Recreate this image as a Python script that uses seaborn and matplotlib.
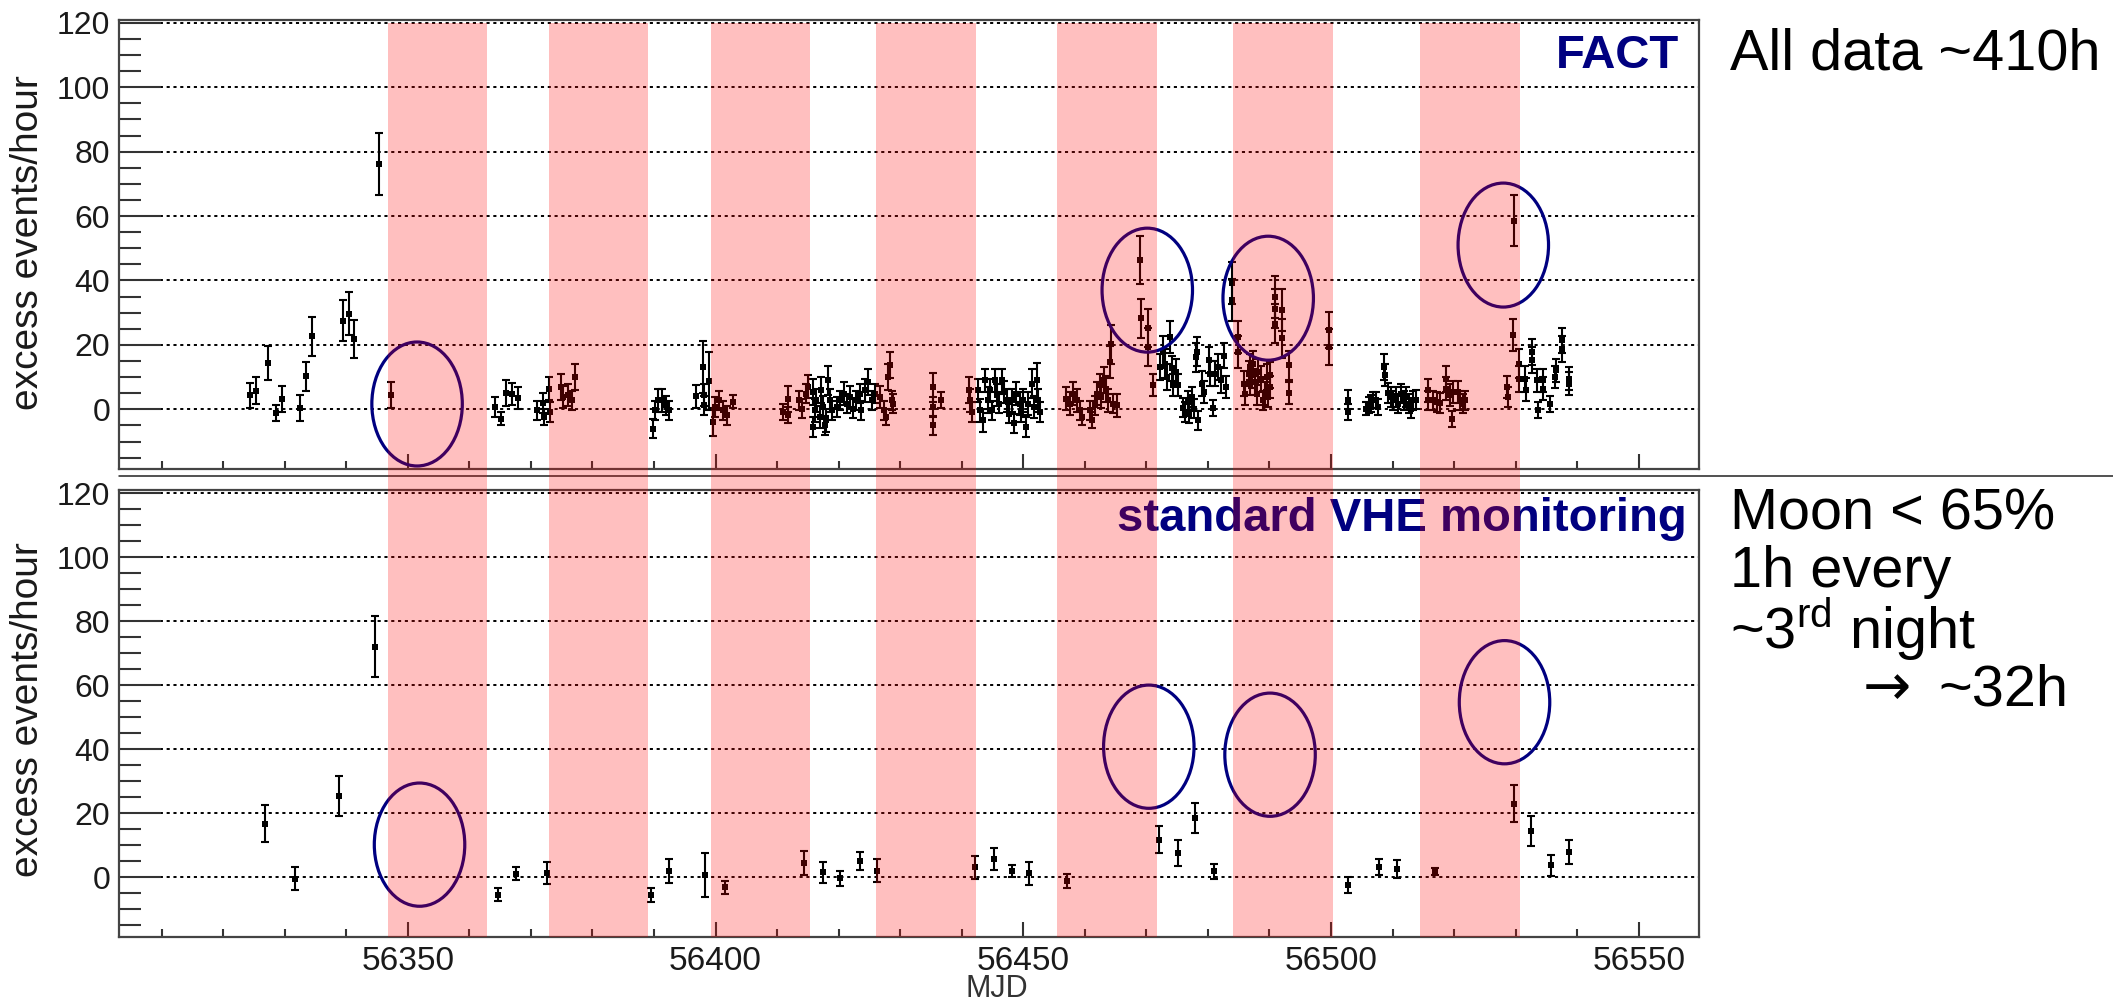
import matplotlib
matplotlib.use("Agg")
import matplotlib.pyplot as plt
import matplotlib.transforms as mtransforms
from matplotlib.patches import Ellipse, Rectangle
from matplotlib.lines import Line2D
from matplotlib.ticker import MultipleLocator
import seaborn as sns
import pandas as pd

# ---------------- data ----------------
# All FACT nights: MJD, excess rate (events/hour), 1-sigma error
all_mjd = [
    56324.4, 56325.4, 56327.3, 56328.6, 56329.5, 56332.4, 56333.4, 56334.4, 56339.4, 56340.4,
    56341.3, 56345.3, 56347.3, 56364.1, 56365.1, 56366.0, 56367.0, 56367.9, 56371.0, 56372.0,
    56372.1, 56373.0, 56373.1, 56374.9, 56375.2, 56376.1, 56376.7, 56377.2, 56389.9, 56390.1,
    56390.6, 56391.3, 56391.9, 56392.4, 56396.8, 56397.9, 56398.2, 56398.1, 56399.0, 56399.6,
    56399.9, 56400.6, 56401.2, 56401.8, 56402.8, 56410.9, 56411.7, 56411.8, 56413.5, 56414.0,
    56414.7, 56415.1, 56415.9, 56415.8, 56416.2, 56416.4, 56416.9, 56417.2, 56417.5, 56417.8,
    56418.0, 56418.3, 56418.6, 56418.9, 56419.7, 56420.2, 56420.8, 56421.3, 56421.8, 56422.4,
    56422.9, 56423.5, 56423.7, 56424.3, 56424.8, 56425.4, 56425.9, 56426.7, 56427.3, 56427.7,
    56428.1, 56428.3, 56428.6, 56428.9, 56435.4, 56435.4, 56435.4, 56436.7, 56441.2, 56441.3,
    56441.6, 56442.7, 56443.0, 56443.4, 56443.8, 56444.2, 56444.6, 56445.0, 56445.4, 56445.7,
    56446.1, 56446.5, 56446.9, 56447.3, 56447.7, 56448.1, 56448.5, 56448.9, 56449.4, 56449.6,
    56450.0, 56450.4, 56450.8, 56451.4, 56451.7, 56452.2, 56452.4, 56452.7, 56457.0, 56457.6,
    56458.1, 56458.7, 56459.2, 56459.5, 56460.8, 56461.1, 56461.6, 56461.9, 56462.4, 56462.7,
    56463.1, 56463.5, 56463.8, 56464.1, 56464.2, 56464.6, 56465.2, 56469.0, 56469.1, 56470.2,
    56470.2, 56471.1, 56472.2, 56472.65, 56473.0, 56473.4, 56473.8, 56474.1, 56474.4, 56474.8,
    56475.2, 56476.0, 56476.3, 56476.7, 56477.0, 56477.4, 56477.7, 56478.1, 56478.2, 56478.4,
    56479.0, 56479.4, 56480.1, 56480.4, 56480.9, 56481.2, 56481.7, 56482.1, 56482.6, 56483.0,
    56483.9, 56483.9, 56484.95, 56484.95, 56485.8, 56486.0, 56486.6, 56486.8, 56487.4, 56486.8,
    56487.1, 56487.7, 56487.9, 56488.2, 56488.6, 56488.9, 56489.3, 56489.6, 56489.8, 56490.1,
    56490.1, 56490.9, 56490.9, 56490.9, 56492.0, 56492.0, 56493.1, 56493.1, 56499.7, 56499.7,
    56502.7, 56502.7, 56505.7, 56506.1, 56506.5, 56506.9, 56507.3, 56507.7, 56508.6, 56508.8,
    56509.3, 56509.7, 56510.1, 56510.6, 56510.9, 56511.3, 56511.8, 56512.2, 56512.6, 56513.0,
    56513.4, 56513.8, 56515.8, 56515.8, 56516.6, 56517.2, 56517.7, 56518.7, 56518.7, 56519.3,
    56519.6, 56519.9, 56520.7, 56521.0, 56521.5, 56521.8, 56528.6, 56528.7, 56529.75, 56529.5,
    56530.5, 56530.5, 56531.5, 56531.7, 56532.6, 56532.6, 56533.4, 56533.7, 56534.4, 56534.5,
    56535.6, 56536.4, 56536.6, 56537.5, 56537.5, 56538.6, 56538.6,
]
all_rate = [
    4.4, 5.7, 14.4, -1.1, 3.1, 0.5, 10.3, 22.7, 27.5, 29.7,
    21.8, 76.1, 4.4, 0.7, -2.9, 5.1, 4.7, 3.5, -0.3, 2.0,
    -2.4, 6.4, -0.8, 6.9, 3.8, 4.4, 2.8, 10.0, -6.0, -0.3,
    2.8, 2.8, 1.2, -0.3, 4.0, 13.2, 4.5, 1.2, 8.8, -4.0,
    0.7, 2.8, -0.3, -1.9, 2.3, -0.8, 3.3, -1.9, 2.8, 0.2,
    4.9, 7.0, 5.4, -5.5, -0.3, 2.8, -2.4, 5.9, 0.7, -5.0,
    -3.4, 9.0, 2.8, -0.3, 0.7, 2.8, 4.9, 1.8, 3.8, 0.2,
    2.8, 4.9, -0.3, 5.9, 8.5, 2.8, 4.9, 3.8, -0.3, -2.4,
    10.0, 13.7, 2.8, 1.8, 6.8, 0.7, -5.0, 2.8, 5.9, 2.8,
    -0.8, 5.9, -0.3, -3.4, 9.0, 2.8, 5.9, -0.3, 9.0, 4.4,
    1.8, 9.0, 5.4, 2.8, -1.4, 2.8, -4.4, 4.9, 1.8, -0.8,
    2.8, -5.5, 1.8, 7.9, 0.7, 9.0, 2.8, -0.8, 3.3, 1.8,
    4.9, 2.8, -0.3, -2.4, -0.3, -3.4, 1.2, 4.9, 7.5, 3.8,
    9.0, 6.4, 2.8, 14.7, 20.2, 1.8, 1.2, 46.3, 28.2, 25.3,
    19.3, 7.5, 13.2, 17.8, 14.2, 10.0, 22.5, 12.7, 7.5, 11.6,
    7.5, 0.5, -0.8, 2.8, -1.4, 3.8, 0.2, 16.2, 17.8, -3.4,
    8.0, 5.4, 15.4, 11.1, 0.5, 11.1, 13.2, 9.0, 16.7, 6.9,
    39.1, 33.9, 22.5, 17.8, 8.0, 4.9, 11.1, 8.0, 14.2, 13.2,
    10.6, 8.5, 4.9, 11.6, 9.5, 2.8, 4.9, 10.0, 3.8, 6.9,
    10.6, 34.9, 31.3, 26.6, 30.8, 22.0, 13.7, 5.1, 24.6, 19.3,
    3.0, -0.8, 0.2, 1.2, 1.8, 2.8, 2.8, 0.7, 13.2, 10.6,
    5.1, 3.8, 2.8, 3.8, 1.8, 4.9, 2.8, 3.8, 1.8, 0.2,
    2.8, 3.0, 5.9, 2.8, 2.8, 2.3, 2.0, 9.5, 6.4, 4.4,
    -2.9, 5.4, 5.4, 2.8, 1.8, 2.8, 6.9, 3.8, 58.6, 23.0,
    14.2, 9.5, 9.3, 6.1, 17.8, 15.2, 9.0, -0.1, 9.0, 6.4,
    1.6, 10.0, 12.1, 21.4, 18.8, 9.5, 8.0,
]
all_err = [
    3.9, 4.2, 5.4, 2.5, 4.0, 4.0, 4.5, 6.0, 6.3, 6.6,
    5.9, 9.7, 4.0, 3.0, 2.0, 4.0, 3.5, 3.5, 3.0, 3.0,
    2.5, 3.5, 3.0, 4.0, 3.5, 3.5, 3.0, 4.0, 3.0, 3.0,
    3.5, 3.5, 3.0, 3.0, 3.7, 8.0, 3.5, 3.0, 9.0, 4.4,
    3.0, 3.0, 3.0, 3.0, 2.0, 2.5, 4.0, 2.5, 3.0, 3.0,
    3.0, 3.5, 4.0, 3.0, 3.5, 3.5, 3.5, 4.0, 3.5, 3.0,
    3.5, 4.5, 3.5, 3.0, 3.0, 3.0, 3.5, 3.0, 3.5, 3.0,
    3.0, 3.0, 3.0, 3.5, 4.0, 3.0, 3.0, 3.5, 3.0, 2.5,
    4.0, 4.0, 3.0, 3.0, 4.5, 3.0, 3.0, 2.5, 4.0, 3.5,
    3.0, 3.5, 3.5, 3.5, 3.5, 4.0, 3.5, 3.0, 3.5, 3.5,
    3.0, 3.5, 3.5, 3.5, 3.0, 3.5, 3.0, 3.5, 3.5, 3.0,
    3.5, 3.0, 3.5, 4.5, 3.5, 5.5, 3.5, 3.0, 3.5, 3.5,
    3.5, 3.5, 3.0, 2.5, 3.0, 2.5, 3.0, 3.5, 3.5, 3.5,
    4.0, 4.0, 3.5, 5.0, 6.0, 3.0, 3.5, 7.5, 6.0, 6.0,
    6.0, 3.5, 4.0, 5.0, 4.5, 4.0, 5.0, 4.0, 3.5, 4.0,
    3.5, 3.0, 3.0, 3.0, 3.0, 3.0, 3.0, 4.5, 4.5, 3.0,
    4.0, 3.5, 4.0, 4.0, 2.5, 4.0, 4.0, 4.0, 4.0, 3.5,
    6.5, 6.5, 5.0, 5.0, 4.0, 3.5, 4.0, 3.5, 4.0, 4.0,
    4.0, 4.0, 3.5, 4.0, 4.0, 3.0, 3.5, 4.0, 3.0, 3.5,
    4.0, 6.5, 6.0, 6.0, 6.5, 6.0, 4.5, 3.5, 5.5, 5.5,
    3.0, 2.5, 2.0, 2.5, 2.5, 2.5, 2.5, 2.5, 4.0, 3.5,
    3.0, 3.0, 3.0, 3.0, 3.0, 3.0, 3.0, 3.0, 3.0, 3.0,
    3.0, 3.0, 3.5, 3.0, 3.0, 3.0, 3.0, 4.0, 3.5, 3.5,
    2.5, 3.5, 3.5, 3.0, 3.0, 3.0, 3.5, 3.0, 8.0, 5.0,
    4.5, 4.0, 4.0, 3.5, 4.0, 4.0, 3.5, 2.5, 3.5, 3.5,
    2.5, 3.5, 3.5, 4.0, 4.0, 3.5, 3.5,
]

# Standard monitoring subset (1h every ~3rd night, moon < 65%)
mon_mjd = [
    56326.8, 56331.7, 56338.8, 56344.6, 56364.6, 56367.55, 56372.55, 56389.5, 56392.4, 56398.3,
    56401.5, 56414.3, 56417.4, 56420.3, 56423.4, 56426.3, 56442.2, 56445.2, 56448.1, 56451.0,
    56457.1, 56472.1, 56475.1, 56477.9, 56481.0, 56502.75, 56507.8, 56510.7, 56516.9, 56529.7,
    56532.5, 56535.7, 56538.6,
]
mon_rate = [
    16.8, -0.5, 25.5, 72.1, -5.4, 1.1, 1.4, -5.4, 1.9, 0.7,
    -3.1, 4.4, 1.5, -0.3, 5.1, 2.0, 3.1, 5.7, 2.0, 1.2,
    -1.1, 11.8, 7.5, 18.4, 1.9, -2.5, 3.2, 2.5, 1.8, 23.0,
    14.4, 3.7, 8.0,
]
mon_err = [
    5.9, 3.6, 6.2, 9.4, 1.9, 2.1, 3.4, 2.2, 3.7, 7.0,
    2.0, 3.7, 3.2, 2.4, 2.7, 3.6, 3.5, 3.5, 1.8, 3.6,
    2.2, 4.1, 4.0, 4.7, 2.4, 2.5, 2.4, 2.8, 1.2, 5.7,
    4.7, 3.4, 3.7,
]

# Bright-moon periods (MJD start / end)
moon_start = [56346.7, 56372.9, 56399.2, 56426.0, 56455.4, 56484.0, 56514.5]
moon_end = [56362.8, 56389.1, 56415.3, 56442.3, 56471.7, 56500.3, 56530.7]

# Highlighted flares (centre MJD, centre rate) in each panel
flare_mjd_top = [56351.5, 56470.15, 56489.8, 56528.0]
flare_rate_top = [1.65, 37.0, 34.5, 51.0]
flare_mjd_bot = [56351.9, 56470.4, 56490.1, 56528.2]
flare_rate_bot = [10.2, 40.8, 38.3, 54.7]
flare_width_days = 14.7
flare_height_rate = 38.5

x_major = [56350, 56400, 56450, 56500, 56550]

# ---------------- style ----------------
sns.set_theme(style="white")
plt.rcParams["font.family"] = ["Liberation Sans", "DejaVu Sans"]
plt.rcParams["mathtext.fontset"] = "custom"
plt.rcParams["mathtext.rm"] = "Liberation Sans"
plt.rcParams["mathtext.it"] = "Liberation Sans:italic"
plt.rcParams["mathtext.bf"] = "Liberation Sans:bold"

W, H = 2113, 1001
fig = plt.figure(figsize=(W / 100, H / 100), dpi=100)
fig.patch.set_facecolor("white")

x_left, x_right = 118.6, 1699.0
ax_top = fig.add_axes([x_left / W, 1 - 469.2 / H, (x_right - x_left) / W, (469.2 - 20.3) / H])
ax_bot = fig.add_axes([x_left / W, 1 - 936.5 / H, (x_right - x_left) / W, (936.5 - 490.0) / H])

NAVY = "#000080"
TICKC = "#333333"


def style_axes(ax, ylim, show_xlabels):
    ax.set_xlim(56303.0, 56559.8)
    ax.set_ylim(*ylim)
    ax.xaxis.set_major_locator(MultipleLocator(50))
    ax.xaxis.set_minor_locator(MultipleLocator(10))
    ax.yaxis.set_major_locator(MultipleLocator(20))
    ax.yaxis.set_minor_locator(MultipleLocator(5))
    ax.set_axisbelow(True)
    ax.yaxis.grid(True, which="major", color="black", linestyle=(0, (1.6, 1.9)), linewidth=1.4)
    ax.xaxis.grid(False)
    ax.tick_params(axis="y", which="major", direction="in", length=30, width=1.5,
                   color=TICKC, labelsize=23, labelcolor="#1a1a1a", pad=6, left=True, right=False)
    ax.tick_params(axis="y", which="minor", direction="in", length=16, width=1.5,
                   color=TICKC, left=True, right=False)
    ax.tick_params(axis="x", which="major", direction="in", length=11, width=1.5,
                   color=TICKC, labelsize=24, labelcolor="#1a1a1a", pad=7,
                   bottom=True, top=False, labelbottom=show_xlabels)
    ax.tick_params(axis="x", which="minor", direction="in", length=6, width=1.5,
                   color=TICKC, bottom=True, top=False)
    ax.set_xticks(x_major)
    for sp in ax.spines.values():
        sp.set_color("#444444")
        sp.set_linewidth(1.6)
    ax.set_xlabel("")
    ax.set_ylabel("")


def draw_points(ax, mjd, rate, err):
    df = pd.DataFrame({"mjd": mjd, "rate": rate, "err": err})
    ax.errorbar(df["mjd"], df["rate"], yerr=df["err"], fmt="none", ecolor="black",
                elinewidth=1.5, capsize=2.6, capthick=1.5, zorder=3)
    sns.scatterplot(data=df, x="mjd", y="rate", ax=ax, color="black", marker="s",
                    s=15, linewidth=0, zorder=4, legend=False)


def draw_flares(ax, xs, ys):
    for cx, cy in zip(xs, ys):
        ax.add_patch(Ellipse((cx, cy), flare_width_days, flare_height_rate, fill=False,
                             edgecolor=NAVY, linewidth=2.3, zorder=6))


draw_points(ax_top, all_mjd, all_rate, all_err)
draw_points(ax_bot, mon_mjd, mon_rate, mon_err)
style_axes(ax_top, (-18.6, 120.8), False)
style_axes(ax_bot, (-18.5, 121.0), True)
draw_flares(ax_top, flare_mjd_top, flare_rate_top)
draw_flares(ax_bot, flare_mjd_bot, flare_rate_bot)

# panel captions
ax_top.text(0.9873, 0.8937, "FACT", transform=ax_top.transAxes, ha="right", va="baseline",
            fontsize=34, fontweight="bold", color=NAVY, zorder=5)
ax_bot.text(0.9924, 0.908, "standard VHE monitoring", transform=ax_bot.transAxes,
            ha="right", va="baseline", fontsize=34, fontweight="bold", color=NAVY, zorder=5)

# axis titles
for yc in (1 - 242.5 / H, 1 - 709.3 / H):
    fig.text(38 / W, yc, "excess events/hour", rotation=90, rotation_mode="anchor",
             ha="center", va="baseline", fontsize=28, color="#1a1a1a")
fig.text(997 / W, 1 - 997 / H, "MJD", ha="center", va="baseline", fontsize=22, color="#333333")

# separator between the panels
fig.add_artist(Line2D([x_left / W, 1.0], [1 - 476.5 / H] * 2, transform=fig.transFigure,
                      color="#222222", linewidth=1.1, zorder=4))

# translucent moon bands across both panels
band_tr = mtransforms.blended_transform_factory(ax_top.transData, fig.transFigure)
y_lo, y_hi = 1 - 936.5 / H, 1 - 23.0 / H
for s, e in zip(moon_start, moon_end):
    fig.add_artist(Rectangle((s, y_lo), e - s, y_hi - y_lo, transform=band_tr,
                             facecolor="red", alpha=0.25, edgecolor="none", zorder=10))

# notes on the right
txt = dict(fontsize=41.5, color="black", ha="left", va="baseline")
fig.text(1730 / W, 1 - 70 / H, "All data ~410h", **txt)
fig.text(1730 / W, 1 - 530 / H, "Moon < 65%", **txt)
fig.text(1730 / W, 1 - 587 / H, "1h every", **txt)
fig.text(1730 / W, 1 - 648 / H, "~3$^{\\mathrm{rd}}$ night", **txt)
fig.text(1863 / W, 1 - 705 / H, "\u2192", fontsize=41.5, color="black", ha="left",
         va="baseline", family="DejaVu Sans")
fig.text(1938 / W, 1 - 705 / H, "~32h", **txt)

fig.savefig("out.png", dpi=100, facecolor="white")
